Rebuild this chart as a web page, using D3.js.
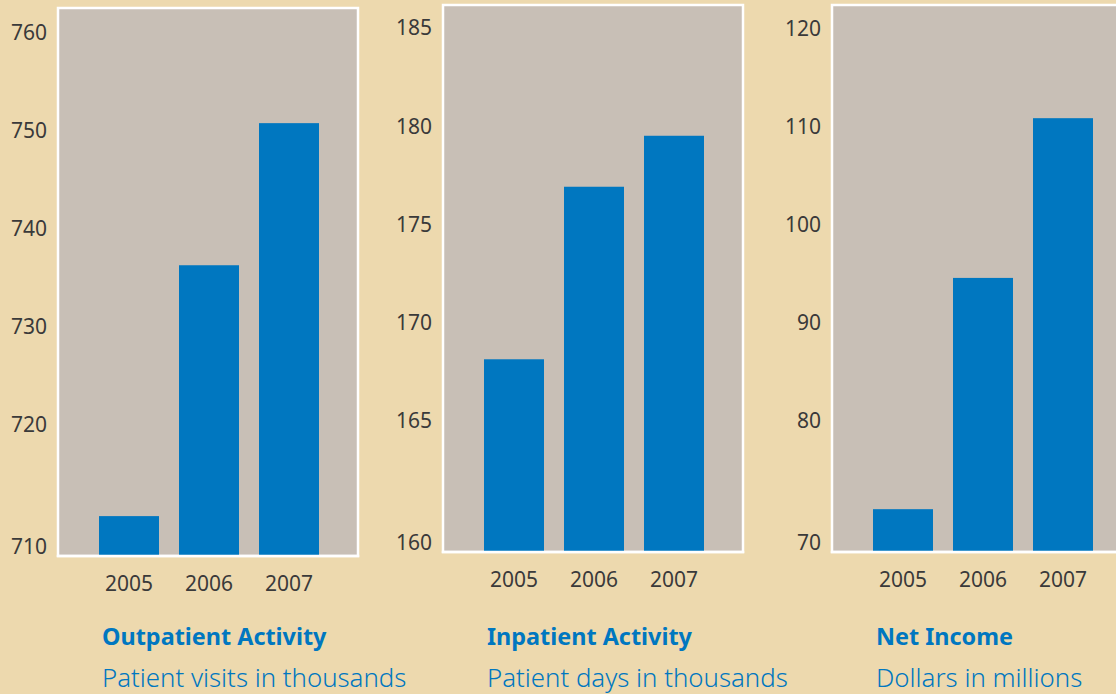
<!DOCTYPE html>
<html>
<head>
<meta charset="utf-8">
<script src="https://cdn.jsdelivr.net/npm/d3@7"></script>
<style>
  html, body { margin: 0; padding: 0; background: #EDD9AE; overflow: hidden; }
  svg { display: block; }
</style>
</head>
<body>
<svg id="chart" width="1116" height="694"></svg>
<script>
// data
const years = ["2005", "2006", "2007"];

const outpatientVisits = [710.6, 736.2, 750.7];
const inpatientDays = [168.1, 176.9, 179.5];
const netIncome = [70.9, 94.5, 110.8];

const outpatientTicks = [710, 720, 730, 740, 750, 760];
const inpatientTicks = [160, 165, 170, 175, 180, 185];
const incomeTicks = [70, 80, 90, 100, 110, 120];

const titles = ["Outpatient Activity", "Inpatient Activity", "Net Income"];
const subtitles = ["Patient visits in thousands", "Patient days in thousands", "Dollars in millions"];

const plotGrey = "#C8BFB6";
const barBlue = "#0077C0";
const textGrey = "#3a3a3a";
const font = "'Noto Sans', sans-serif";

var svg = d3.select("#chart");

// one entry per panel: left edge, top/bottom of plot box, y domain
let panels = [
  { values: outpatientVisits, ticks: outpatientTicks, left: 58, top: 8, bottom: 556, domain: [706.53, 762.45] },
  { values: inpatientDays, ticks: inpatientTicks, left: 443, top: 5, bottom: 552, domain: [158.27, 186.17] },
  { values: netIncome, ticks: incomeTicks, left: 832, top: 5, bottom: 552, domain: [66.53, 122.35] }
];
let panelWidth = 300;

var x = d3.scaleBand()
  .domain(years)
  .range([31, 271])
  .paddingInner(0.25)
  .paddingOuter(0.125);

panels.forEach(function (p, i) {
  let g = svg.append("g").attr("transform", `translate(${p.left},0)`);
  let y = d3.scaleLinear().domain(p.domain).range([p.bottom, p.top]);

  g.append("rect")
    .attr("x", 0)
    .attr("y", p.top)
    .attr("width", panelWidth)
    .attr("height", p.bottom - p.top)
    .attr("fill", plotGrey)
    .attr("stroke", "#ffffff")
    .attr("stroke-width", 2.5);

  g.selectAll(".bar")
    .data(p.values)
    .enter()
    .append("rect")
    .attr("class", "bar")
    .attr("x", function (d, j) { return x(years[j]); })
    .attr("width", x.bandwidth())
    .attr("y", function (d) { return y(d); })
    .attr("height", function (d) { return p.bottom - 1 - y(d); })
    .attr("fill", barBlue);

  // white baseline over bar feet
  g.append("line")
    .attr("x1", -1.25).attr("x2", panelWidth + 1.25)
    .attr("y1", p.bottom).attr("y2", p.bottom)
    .attr("stroke", "#ffffff")
    .attr("stroke-width", 2.5);

  // tick labels; the lowest one sits at the foot of the box
  g.selectAll(".ylab")
    .data(p.ticks)
    .enter()
    .append("text")
    .attr("class", "ylab")
    .attr("x", -11)
    .attr("y", function (d, j) { return j === 0 ? p.bottom - 10 : y(d); })
    .attr("dy", "0.36em")
    .attr("text-anchor", "end")
    .attr("font-family", font)
    .attr("font-size", 21)
    .attr("fill", textGrey)
    .text(function (d) { return d; });

  g.selectAll(".xlab")
    .data(years)
    .enter()
    .append("text")
    .attr("class", "xlab")
    .attr("x", function (d) { return x(d) + x.bandwidth() / 2; })
    .attr("y", p.bottom + 27)
    .attr("dy", "0.36em")
    .attr("text-anchor", "middle")
    .attr("font-family", font)
    .attr("font-size", 21)
    .attr("fill", textGrey)
    .text(function (d) { return d; });

  g.append("text")
    .attr("x", x(years[0]) + 3)
    .attr("y", 645)
    .attr("font-family", font)
    .attr("font-size", 23.4)
    .attr("font-weight", "bold")
    .attr("fill", barBlue)
    .text(titles[i]);

  g.append("text")
    .attr("x", x(years[0]) + 3)
    .attr("y", 687)
    .attr("font-family", font)
    .attr("font-size", 25.8)
    .attr("font-weight", 300)
    .attr("fill", barBlue)
    .text(subtitles[i]);
});
</script>
</body>
</html>
